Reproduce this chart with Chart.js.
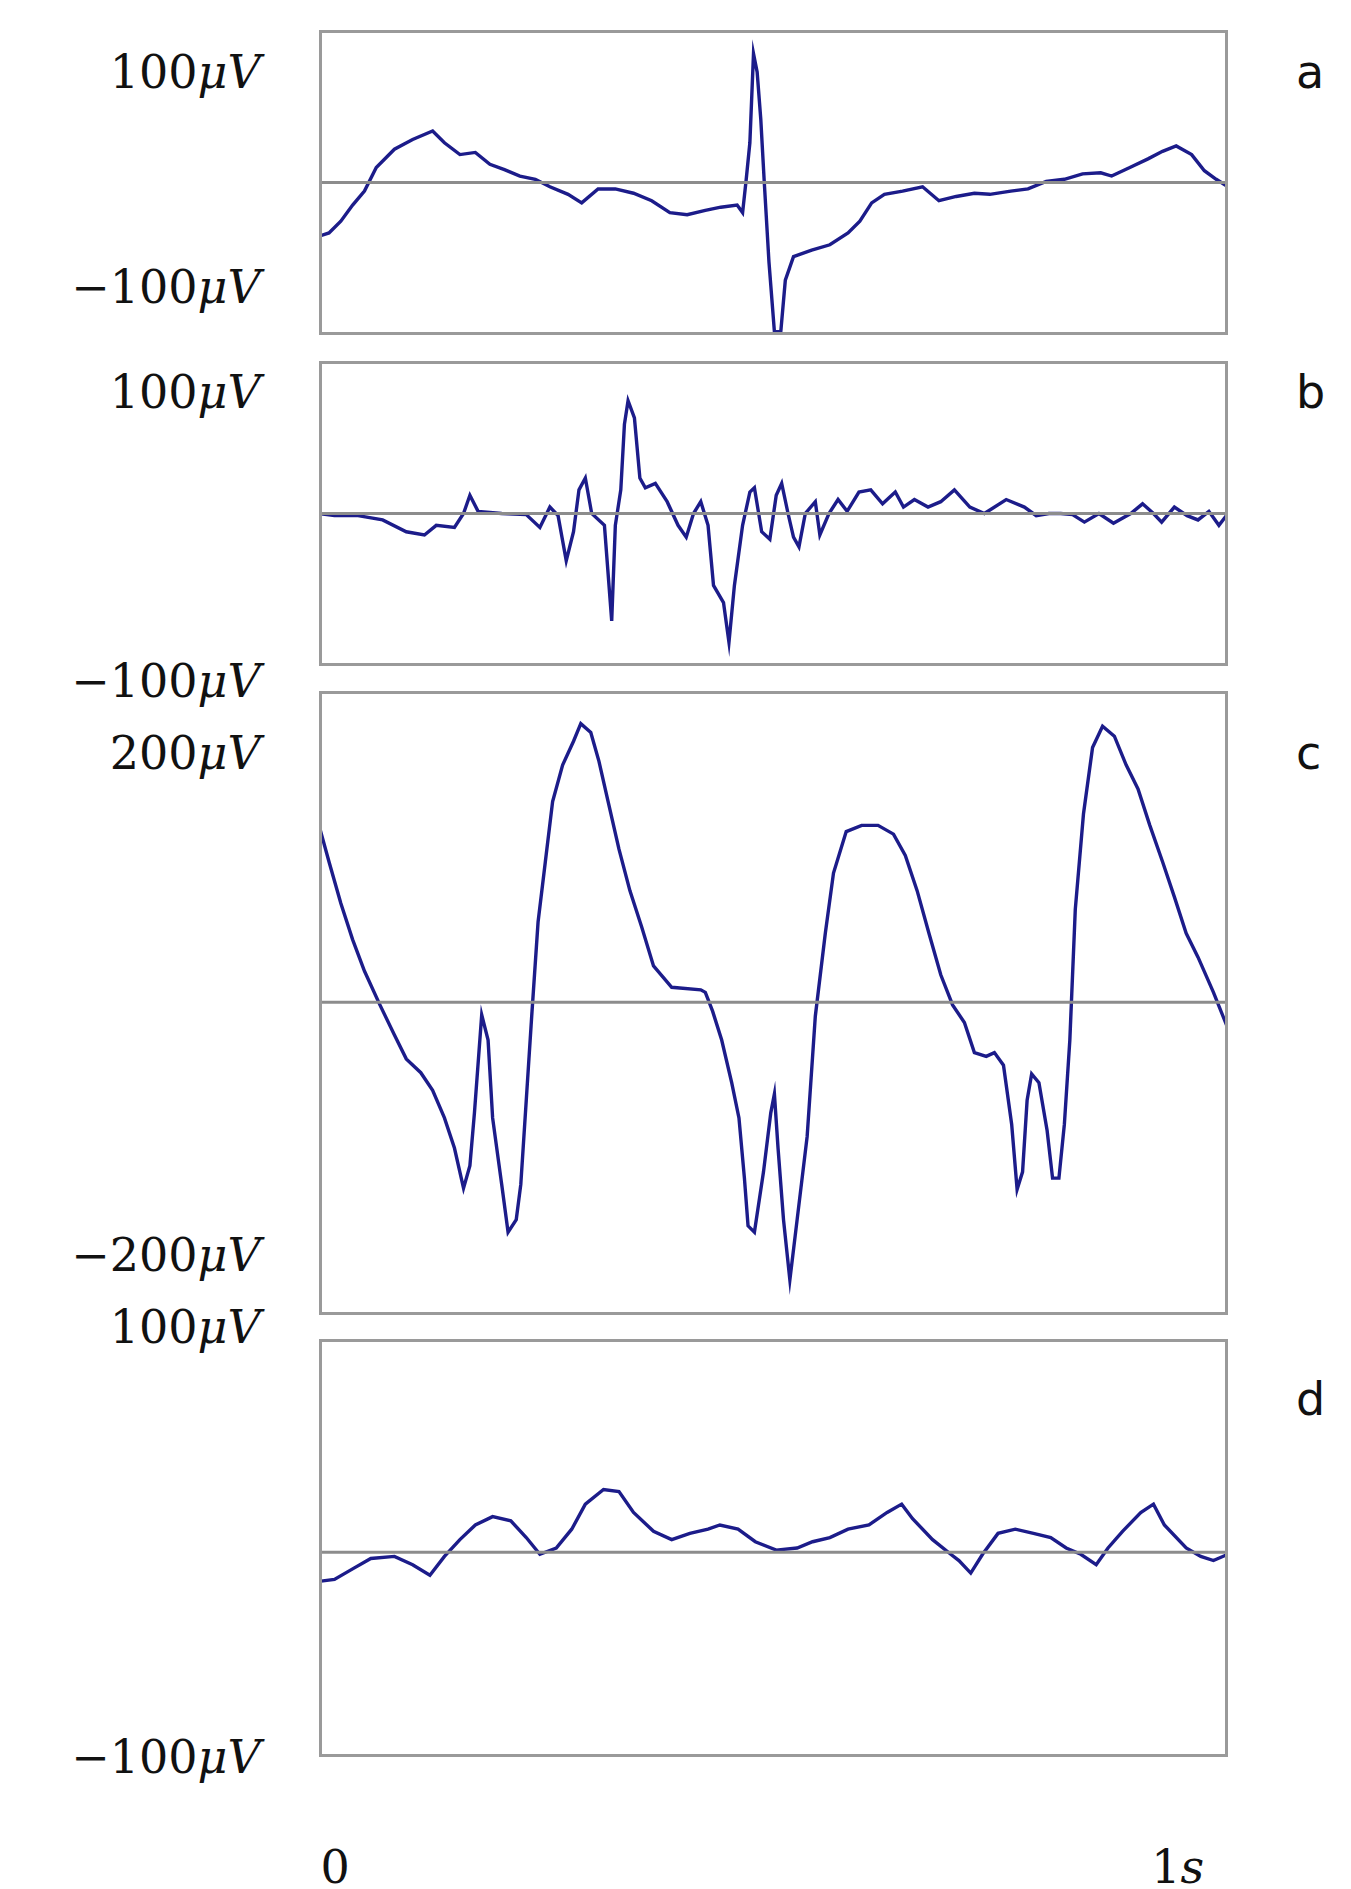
<!DOCTYPE html>
<html><head><meta charset="utf-8">
<script src="https://cdn.jsdelivr.net/npm/chart.js@4"></script>
<style>
body{margin:0;background:#fff;width:1351px;height:1889px;position:relative;overflow:hidden}
canvas{position:absolute}
.lab{position:absolute;font-family:"DejaVu Serif","Liberation Serif",serif;color:#111;white-space:nowrap;transform:translateY(-50%)}
.lab i{font-style:italic}
.let{position:absolute;font-family:"DejaVu Sans",sans-serif;color:#111;transform:translateY(-50%)}
</style></head><body>
<script>
// time in seconds (0..1), amplitude in microvolts
const timeA=[0,.011,.024,.037,.05,.063,.083,.103,.125,.138,.155,.172,.188,.204,.221,.238,.254,.274,.289,.307,.326,.346,.366,.386,.405,.425,.442,.46,.466,.47,.474,.478,.482,.486,.49,.495,.501,.508,.513,.522,.542,.562,.582,.595,.608,.622,.642,.664,.682,.701,.721,.738,.761,.78,.8,.82,.84,.86,.872,.892,.912,.928,.943,.96,.974,.987,1];
const eegA=[-50,-47,-36,-21,-8,14,31,40,48,37,26,28,17,12,6,3,-4,-11,-19,-6,-6,-10,-17,-28,-30,-26,-23,-21,-28,3,37,120,103,59,-2,-74,-139,-139,-91,-69,-63,-58,-47,-36,-19,-11,-8,-4,-17,-13,-10,-11,-8,-6,1,3,8,9,6,14,22,29,34,26,11,3,-4];
const timeB=[0,.017,.043,.07,.096,.116,.129,.149,.159,.166,.175,.201,.228,.243,.254,.263,.272,.28,.286,.293,.30,.314,.322,.326,.332,.336,.34,.347,.353,.359,.37,.383,.395,.404,.412,.42,.428,.434,.445,.451,.457,.466,.474,.479,.487,.496,.503,.509,.516,.522,.528,.535,.546,.551,.561,.571,.581,.594,.607,.62,.634,.643,.655,.67,.684,.699,.716,.732,.756,.776,.789,.803,.816,.829,.842,.858,.874,.893,.906,.918,.927,.941,.955,.967,.979,.99,1];
const eegB=[0,-2,-2,-6,-17,-20,-11,-13,0,17,2,0,-1,-13,6,-2,-44,-17,22,33,0,-11,-100,-11,22,83,105,89,33,24,28,11,-11,-22,0,11,-11,-67,-83,-120,-67,-11,20,24,-17,-24,17,28,0,-22,-31,0,11,-20,0,13,2,20,22,9,20,6,13,6,11,22,6,0,13,6,-2,0,0,-1,-8,0,-9,0,9,0,-8,6,-2,-6,2,-11,0];
const timeC=[0,.011,.024,.037,.05,.067,.083,.096,.112,.125,.138,.149,.159,.166,.171,.179,.186,.191,.201,.208,.217,.222,.228,.234,.241,.249,.257,.268,.28,.288,.299,.308,.318,.33,.342,.355,.368,.388,.42,.425,.433,.443,.454,.462,.468,.472,.479,.489,.497,.501,.505,.511,.518,.526,.537,.546,.557,.566,.58,.597,.615,.632,.645,.658,.671,.684,.697,.71,.721,.734,.743,.753,.762,.768,.774,.779,.784,.792,.801,.807,.814,.82,.826,.832,.841,.851,.862,.875,.888,.901,.914,.928,.941,.954,.967,.984,1];
const eegC=[141,112,79,50,25,-2,-26,-45,-56,-70,-92,-116,-148,-130,-88,-10,-30,-92,-145,-183,-173,-145,-78,-11,64,112,160,189,208,222,215,192,160,122,89,60,29,12,10,8,-7,-30,-64,-92,-140,-178,-183,-135,-88,-73,-116,-173,-221,-173,-107,-11,55,103,136,141,141,134,117,89,55,22,-2,-16,-40,-43,-40,-50,-97,-149,-135,-78,-57,-64,-102,-140,-140,-97,-30,74,150,203,220,212,189,170,141,112,84,55,36,8,-21];
const timeD=[0,.017,.037,.057,.083,.103,.122,.138,.155,.172,.191,.211,.228,.243,.261,.278,.293,.313,.33,.346,.368,.388,.408,.428,.441,.461,.48,.503,.526,.543,.562,.582,.605,.625,.641,.653,.675,.695,.704,.717,.73,.747,.766,.786,.805,.822,.838,.855,.868,.884,.904,.918,.93,.954,.97,.984,1];
const eegD=[-14,-13,-8,-3,-2,-6,-11,-2,6,13,17,15,7,-1,2,11,23,30,29,19,10,6,9,11,13,11,5,1,2,5,7,11,13,19,23,16,6,-1,-4,-10,-1,9,11,9,7,2,-1,-6,2,10,19,23,13,2,-2,-4,-1];
const labels=[
 {t:"100",y:60},{t:"−100",y:240},{t:"100",y:328},{t:"−100",y:570},
 {t:"200",y:630},{t:"−200",y:1050},{t:"100",y:1110},{t:"−100",y:1470}];
const letters=[["a",60],["b",328],["c",630],["d",1170]];
const xTicks=["0","1s"];

const S=1351/1130;
const panels=[
 {t:timeA,v:eegA,top:25,bot:280,min:-142,max:142},
 {t:timeB,v:eegB,top:302,bot:557,min:-142,max:142},
 {t:timeC,v:eegC,top:578,bot:1100,min:-249,max:248},
 {t:timeD,v:eegD,top:1120,bot:1470,min:-98,max:102}];
const L=267,R=1027;
const boxPlugin={id:'box',afterDraw(c){const a=c.chartArea,x=c.ctx;x.save();x.strokeStyle='#9a9a9a';x.lineWidth=3;x.strokeRect(a.left+1.5,a.top+1.5,a.right-a.left-3,a.bottom-a.top-3);x.restore();}};
panels.forEach(p=>{
 const cv=document.createElement('canvas');
 const w=Math.round((R-L)*S),h=Math.round((p.bot-p.top)*S);
 cv.width=w;cv.height=h;
 cv.style.left=(L*S)+'px';cv.style.top=(p.top*S)+'px';cv.style.width=w+'px';cv.style.height=h+'px';
 document.body.appendChild(cv);
 new Chart(cv,{type:'line',
  data:{datasets:[
   {data:[{x:0,y:0},{x:1,y:0}],borderColor:'#8c8c8c',borderWidth:3,pointRadius:0},
   {data:p.t.map((x,i)=>({x,y:p.v[i]})),borderColor:'#1c1c8a',borderWidth:3.4,pointRadius:0,tension:0}]},
  options:{responsive:false,animation:false,devicePixelRatio:1,maintainAspectRatio:false,
   layout:{padding:0},
   plugins:{legend:{display:false},tooltip:{enabled:false}},
   scales:{x:{type:'linear',min:0,max:1,display:false},y:{min:p.min,max:p.max,display:false}}},
  plugins:[boxPlugin]});
});
labels.forEach(l=>{const d=document.createElement('div');d.className='lab';
 d.innerHTML=l.t+'<i>μV</i>';d.style.right=(1351-218*S)+'px';d.style.top=(l.y*S)+'px';d.style.fontSize='46px';document.body.appendChild(d);});
letters.forEach(([t,y])=>{const d=document.createElement('div');d.className='let';d.textContent=t;
 d.style.left=(1084*S)+'px';d.style.top=(y*S)+'px';d.style.fontSize='46px';document.body.appendChild(d);});
xTicks.forEach((t,i)=>{const d=document.createElement('div');d.className='lab';
 d.innerHTML=t==="1s"?'1<i>s</i>':t;d.style.top=(1562*S)+'px';d.style.fontSize='46px';
 d.style.left=((i?963:268)*S)+'px';document.body.appendChild(d);});
</script>
</body></html>
